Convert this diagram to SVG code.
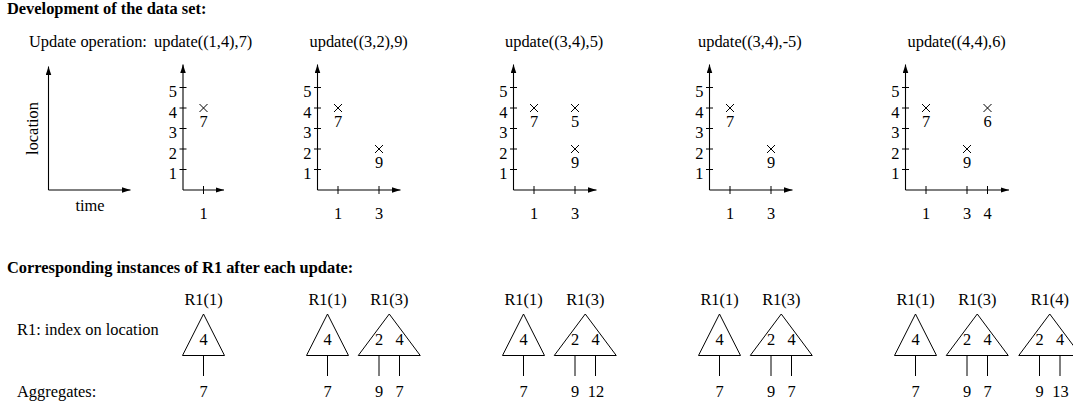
<svg xmlns="http://www.w3.org/2000/svg" width="1073" height="410" viewBox="0 0 1073 410" font-family="'Liberation Serif', 'Times New Roman', serif">
<style>
text{font-family:'Liberation Serif','Times New Roman',Times,serif;font-size:16.4px;fill:#000}
.b{font-weight:bold}
.m{text-anchor:middle}
.e{text-anchor:end}
.ln{stroke:#000;stroke-width:1;fill:none}
.ax{stroke:#000;stroke-width:1.1;fill:none;marker-end:url(#arr)}
</style>
<defs>
<marker id="arr" markerUnits="userSpaceOnUse" markerWidth="9" markerHeight="6" refX="8.5" refY="2.75" orient="auto">
<path d="M0,0 L8.5,2.75 L0,5.5 Z" fill="#000"/>
</marker>
</defs>
<rect width="1073" height="410" fill="#fff"/>

<text class="b" x="7" y="14">Development of the data set:</text>
<text x="29" y="46.5">Update operation:<tspan x="154">update((1,4),7)</tspan></text>
<text x="309.5" y="46.5">update((3,2),9)</text>
<text x="505" y="46.5">update((3,4),5)</text>
<text x="698" y="46.5">update((3,4),-5)</text>
<text x="907.5" y="46.5">update((4,4),6)</text>

<g id="legend-axes">
<path class="ax" d="M48.5,190 V66.5"/>
<path class="ax" d="M48.5,190 H130.5"/>
<text class="m" transform="translate(37.5,128.5) rotate(-90)">location</text>
<text class="m" x="90" y="211">time</text>
</g>

<g id="chart1" transform="translate(183,0)">
<path class="ax" d="M0,190 V64.5"/>
<path class="ax" d="M0,190 H41"/>
<path class="ln" d="M-3.5,169.5h7M-3.5,149h7M-3.5,128.5h7M-3.5,108h7M-3.5,87.5h7M20.5,186v8"/>
<text class="e" x="-6" y="179">1</text><text class="e" x="-6" y="158.5">2</text><text class="e" x="-6" y="138">3</text><text class="e" x="-6" y="117.5">4</text><text class="e" x="-6" y="97">5</text>
<text class="m" x="20.5" y="218.5">1</text>
<path class="ln" d="M16.5,104l8,8M16.5,112l8,-8"/>
<text class="m" x="20.5" y="127">7</text>
</g>

<g id="chart2" transform="translate(317.5,0)">
<path class="ax" d="M0,190 V64.5"/>
<path class="ax" d="M0,190 H83"/>
<path class="ln" d="M-3.5,169.5h7M-3.5,149h7M-3.5,128.5h7M-3.5,108h7M-3.5,87.5h7M20.5,186v8M61.5,186v8"/>
<text class="e" x="-6" y="179">1</text><text class="e" x="-6" y="158.5">2</text><text class="e" x="-6" y="138">3</text><text class="e" x="-6" y="117.5">4</text><text class="e" x="-6" y="97">5</text>
<text class="m" x="20.5" y="218.5">1</text><text class="m" x="61.5" y="218.5">3</text>
<path class="ln" d="M16.5,104l8,8M16.5,112l8,-8M57.5,145l8,8M57.5,153l8,-8"/>
<text class="m" x="20.5" y="127">7</text><text class="m" x="61.5" y="168">9</text>
</g>

<g id="chart3" transform="translate(513.5,0)">
<path class="ax" d="M0,190 V64.5"/>
<path class="ax" d="M0,190 H83"/>
<path class="ln" d="M-3.5,169.5h7M-3.5,149h7M-3.5,128.5h7M-3.5,108h7M-3.5,87.5h7M20.5,186v8M61.5,186v8"/>
<text class="e" x="-6" y="179">1</text><text class="e" x="-6" y="158.5">2</text><text class="e" x="-6" y="138">3</text><text class="e" x="-6" y="117.5">4</text><text class="e" x="-6" y="97">5</text>
<text class="m" x="20.5" y="218.5">1</text><text class="m" x="61.5" y="218.5">3</text>
<path class="ln" d="M16.5,104l8,8M16.5,112l8,-8M57.5,104l8,8M57.5,112l8,-8M57.5,145l8,8M57.5,153l8,-8"/>
<text class="m" x="20.5" y="127">7</text><text class="m" x="61.5" y="127">5</text><text class="m" x="61.5" y="168">9</text>
</g>

<g id="chart4" transform="translate(709.5,0)">
<path class="ax" d="M0,190 V64.5"/>
<path class="ax" d="M0,190 H83"/>
<path class="ln" d="M-3.5,169.5h7M-3.5,149h7M-3.5,128.5h7M-3.5,108h7M-3.5,87.5h7M20.5,186v8M61.5,186v8"/>
<text class="e" x="-6" y="179">1</text><text class="e" x="-6" y="158.5">2</text><text class="e" x="-6" y="138">3</text><text class="e" x="-6" y="117.5">4</text><text class="e" x="-6" y="97">5</text>
<text class="m" x="20.5" y="218.5">1</text><text class="m" x="61.5" y="218.5">3</text>
<path class="ln" d="M16.5,104l8,8M16.5,112l8,-8M57.5,145l8,8M57.5,153l8,-8"/>
<text class="m" x="20.5" y="127">7</text><text class="m" x="61.5" y="168">9</text>
</g>

<g id="chart5" transform="translate(905.5,0)">
<path class="ax" d="M0,190 V64.5"/>
<path class="ax" d="M0,190 H103.5"/>
<path class="ln" d="M-3.5,169.5h7M-3.5,149h7M-3.5,128.5h7M-3.5,108h7M-3.5,87.5h7M20.5,186v8M61.5,186v8M82,186v8"/>
<text class="e" x="-6" y="179">1</text><text class="e" x="-6" y="158.5">2</text><text class="e" x="-6" y="138">3</text><text class="e" x="-6" y="117.5">4</text><text class="e" x="-6" y="97">5</text>
<text class="m" x="20.5" y="218.5">1</text><text class="m" x="61.5" y="218.5">3</text><text class="m" x="82" y="218.5">4</text>
<path class="ln" d="M16.5,104l8,8M16.5,112l8,-8M57.5,145l8,8M57.5,153l8,-8M78,104l8,8M78,112l8,-8"/>
<text class="m" x="20.5" y="127">7</text><text class="m" x="61.5" y="168">9</text><text class="m" x="82" y="127">6</text>
</g>

<text class="b" x="7" y="273">Corresponding instances of R1 after each update:</text>
<text x="17" y="335">R1: index on location</text>
<text x="17" y="397">Aggregates:</text>

<g id="s1-r1-1" transform="translate(203.5,0)">
<text class="m" x="0" y="305">R1(1)</text>
<path class="ln" d="M0,314 L21,355.5 L-21,355.5 Z"/>
<text class="m" x="0" y="345">4</text>
<text class="m" x="0" y="397">7</text>
</g>

<g id="s2-r1-1" transform="translate(327.5,0)">
<text class="m" x="0" y="305">R1(1)</text>
<path class="ln" d="M0,314 L21,355.5 L-21,355.5 Z"/>
<text class="m" x="0" y="345">4</text>
<text class="m" x="0" y="397">7</text>
</g>
<g id="s2-r1-3" transform="translate(389.25,0)">
<text class="m" x="0" y="305">R1(3)</text>
<path class="ln" d="M0,314 L31,355.5 L-31,355.5 Z"/>
<text class="m" x="-10.25" y="345">2</text><text class="m" x="10.25" y="345">4</text>
<text class="m" x="-10.25" y="397">9</text><text class="m" x="10.25" y="397">7</text>
</g>

<g id="s3-r1-1" transform="translate(523.5,0)">
<text class="m" x="0" y="305">R1(1)</text>
<path class="ln" d="M0,314 L21,355.5 L-21,355.5 Z"/>
<text class="m" x="0" y="345">4</text>
<text class="m" x="0" y="397">7</text>
</g>
<g id="s3-r1-3" transform="translate(585.25,0)">
<text class="m" x="0" y="305">R1(3)</text>
<path class="ln" d="M0,314 L31,355.5 L-31,355.5 Z"/>
<text class="m" x="-10.25" y="345">2</text><text class="m" x="10.25" y="345">4</text>
<text class="m" x="-10.25" y="397">9</text><text class="m" x="10.75" y="397">12</text>
</g>

<g id="s4-r1-1" transform="translate(719.5,0)">
<text class="m" x="0" y="305">R1(1)</text>
<path class="ln" d="M0,314 L21,355.5 L-21,355.5 Z"/>
<text class="m" x="0" y="345">4</text>
<text class="m" x="0" y="397">7</text>
</g>
<g id="s4-r1-3" transform="translate(781.25,0)">
<text class="m" x="0" y="305">R1(3)</text>
<path class="ln" d="M0,314 L31,355.5 L-31,355.5 Z"/>
<text class="m" x="-10.25" y="345">2</text><text class="m" x="10.25" y="345">4</text>
<text class="m" x="-10.25" y="397">9</text><text class="m" x="10.25" y="397">7</text>
</g>

<g id="s5-r1-1" transform="translate(915.5,0)">
<text class="m" x="0" y="305">R1(1)</text>
<path class="ln" d="M0,314 L21,355.5 L-21,355.5 Z"/>
<text class="m" x="0" y="345">4</text>
<text class="m" x="0" y="397">7</text>
</g>
<g id="s5-r1-3" transform="translate(977.25,0)">
<text class="m" x="0" y="305">R1(3)</text>
<path class="ln" d="M0,314 L31,355.5 L-31,355.5 Z"/>
<text class="m" x="-10.25" y="345">2</text><text class="m" x="10.25" y="345">4</text>
<text class="m" x="-10.25" y="397">9</text><text class="m" x="10.25" y="397">7</text>
</g>
<g id="s5-r1-4" transform="translate(1049.75,0)">
<text class="m" x="0" y="305">R1(4)</text>
<path class="ln" d="M0,314 L31,355.5 L-31,355.5 Z"/>
<text class="m" x="-10.25" y="345">2</text><text class="m" x="10.25" y="345">4</text>
<text class="m" x="-10.25" y="397">9</text><text class="m" x="10.75" y="397">13</text>
</g>

<g id="connectors">
<path class="ln" d="M203.5,355.5V376 M327.5,355.5V376 M379,355.5V376 M399.5,355.5V376 M523.5,355.5V376 M575,355.5V376 M595.5,355.5V376 M719.5,355.5V376 M771,355.5V376 M791.5,355.5V376 M915.5,355.5V376 M967,355.5V376 M987.5,355.5V376 M1039.5,355.5V376 M1060,355.5V376"/>
</g>
</svg>
